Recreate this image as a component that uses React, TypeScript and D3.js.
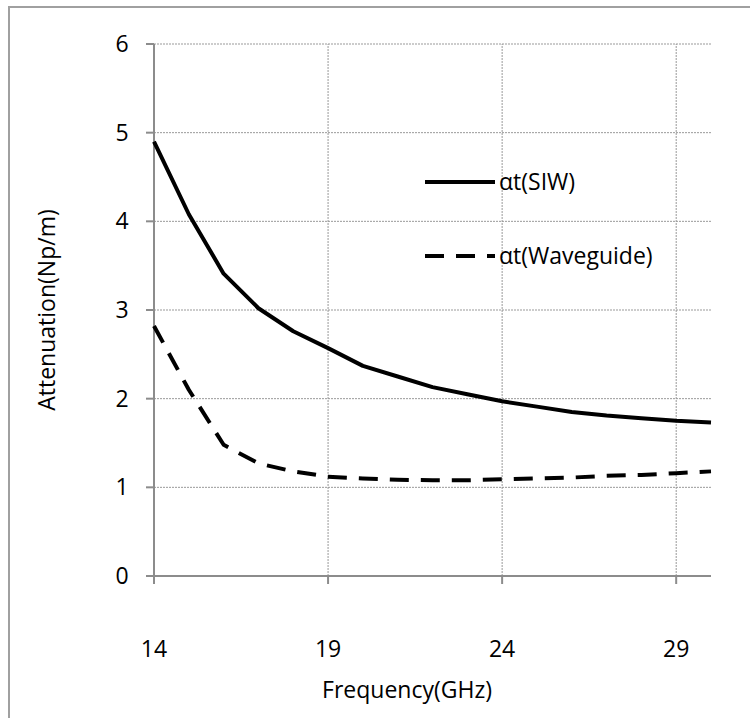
import React from "react";
import * as d3 from "d3";

const freqs = [14, 15, 16, 17, 18, 19, 20, 21, 22, 23, 24, 25, 26, 27, 28, 29, 30];
const siw = [4.9, 4.08, 3.41, 3.02, 2.76, 2.57, 2.37, 2.25, 2.13, 2.05, 1.97, 1.91, 1.85, 1.81, 1.78, 1.75, 1.73];
const waveguide = [2.82, 2.1, 1.48, 1.27, 1.18, 1.12, 1.1, 1.086, 1.08, 1.08, 1.09, 1.1, 1.11, 1.13, 1.14, 1.16, 1.18];
const xTicks = [14, 19, 24, 29];
const yTicks = [0, 1, 2, 3, 4, 5, 6];
const seriesNames = ["αt(SIW)", "αt(Waveguide)"];

const W = 750;
const H = 718;
const FONT = "'Open Sans', 'Noto Sans', sans-serif";
const FS = 23;

export default function App() {
  const x = d3.scaleLinear().domain([14, 30]).range([154, 711]);
  const y = d3.scaleLinear().domain([0, 6]).range([576, 44]);
  const line = d3
    .line<number>()
    .x((_, i) => x(freqs[i]))
    .y((d) => y(d));
  const gridColor = "#999";
  const axisColor = "#8c8c8c";
  return (
    <svg
      width={W}
      height={H}
      style={{ position: "absolute", left: 0, top: 0, background: "#fff" }}
    >
      <rect x={0} y={0} width={W} height={H} fill="#fff" />
      <rect x={9} y={7} width={W + 20} height={H + 20} fill="none" stroke="#a0a0a0" strokeWidth={2} />
      {yTicks.filter((t) => t > 0).map((t) => (
        <line key={"gy" + t} x1={x(14)} x2={x(30)} y1={y(t)} y2={y(t)} stroke={gridColor} strokeWidth={1} strokeDasharray="2 1" />
      ))}
      {xTicks.filter((t) => t > 14).map((t) => (
        <line key={"gx" + t} x1={x(t)} x2={x(t)} y1={y(0)} y2={y(6)} stroke={gridColor} strokeWidth={1} strokeDasharray="2 1" />
      ))}
      <line x1={x(14)} x2={x(14)} y1={y(0)} y2={y(6)} stroke={axisColor} strokeWidth={2} />
      <line x1={x(14)} x2={x(30)} y1={y(0)} y2={y(0)} stroke={axisColor} strokeWidth={2} />
      {yTicks.map((t) => (
        <g key={"ty" + t}>
          <line x1={x(14) - 8} x2={x(14)} y1={y(t)} y2={y(t)} stroke={axisColor} strokeWidth={2} />
          <text x={x(14) - 32} y={y(t)} dy="0.35em" textAnchor="middle" fontFamily={FONT} fontSize={FS} fill="#000">
            {t}
          </text>
        </g>
      ))}
      {xTicks.map((t) => (
        <g key={"tx" + t}>
          <line x1={x(t)} x2={x(t)} y1={y(0)} y2={y(0) + 8} stroke={axisColor} strokeWidth={2} />
          <text x={x(t)} y={649} dy="0.35em" textAnchor="middle" fontFamily={FONT} fontSize={FS} fill="#000">
            {t}
          </text>
        </g>
      ))}
      <text x={407} y={690} dy="0.35em" textAnchor="middle" fontFamily={FONT} fontSize={FS} fill="#000">
        Frequency(GHz)
      </text>
      <text
        transform={`translate(47,${310}) rotate(-90)`}
        dy="0.35em"
        textAnchor="middle"
        fontFamily={FONT}
        fontSize={FS}
        fill="#000"
      >
        Attenuation(Np/m)
      </text>
      <path d={line(siw) || ""} fill="none" stroke="#000" strokeWidth={4} strokeLinejoin="round" />
      <path d={line(waveguide) || ""} fill="none" stroke="#000" strokeWidth={4} strokeDasharray="19 12" strokeLinejoin="round" />
      <line x1={425} x2={495} y1={182} y2={182} stroke="#000" strokeWidth={4} />
      <text x={499} y={182} dy="0.35em" fontFamily={FONT} fontSize={FS} fill="#000">
        {seriesNames[0]}
      </text>
      <line x1={425} x2={495} y1={256} y2={256} stroke="#000" strokeWidth={4} strokeDasharray="19 12" />
      <text x={499} y={256} dy="0.35em" fontFamily={FONT} fontSize={FS} fill="#000">
        {seriesNames[1]}
      </text>
    </svg>
  );
}
